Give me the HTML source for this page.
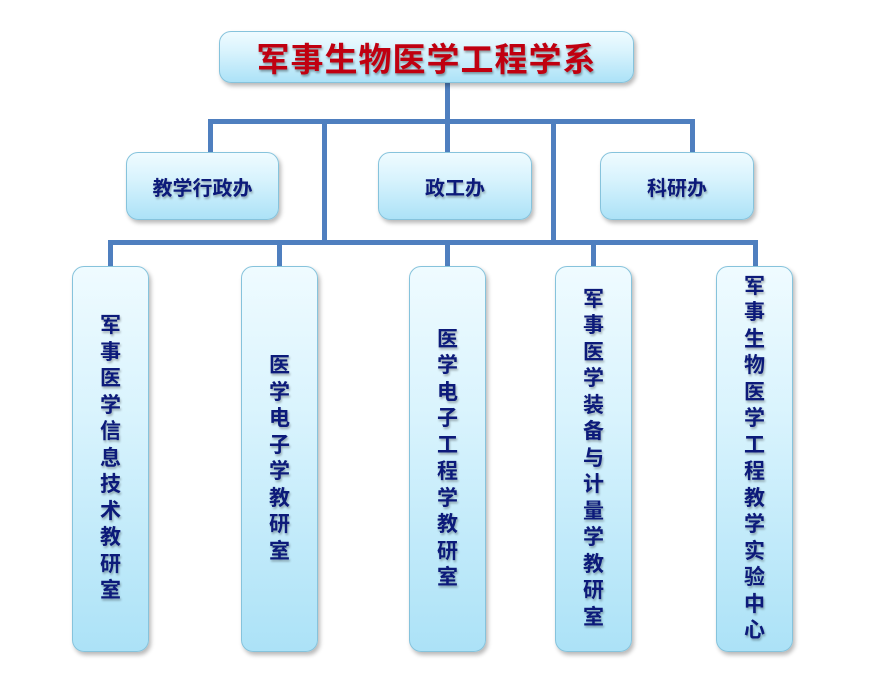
<!DOCTYPE html>
<html><head><meta charset="utf-8"><style>
body{margin:0;width:869px;height:698px;background:#fff;position:relative;overflow:hidden;font-family:"Liberation Sans","Noto Sans CJK SC","WenQuanYi Zen Hei",sans-serif;}
.l{position:absolute;background:#4f7fbf;}
.b{position:absolute;box-sizing:border-box;border:1.5px solid #86c3dc;border-radius:12px;background:linear-gradient(#effbff,#d8f3fd 40%,#ace2f7);box-shadow:2px 3px 4px rgba(0,0,0,0.28);display:flex;align-items:center;justify-content:center;color:#0c1a7a;font-weight:bold;text-shadow:1px 2px 2px rgba(0,0,0,0.3);}
.m{font-size:20px;}
.v{font-size:21px;line-height:26.5px;}
.v span{display:block;width:1.05em;text-align:center;word-break:break-all;}
</style></head><body>
<div class="l" style="left:445px;top:82px;width:5px;height:40px"></div>
<div class="l" style="left:208px;top:119px;width:487px;height:5px"></div>
<div class="l" style="left:208px;top:119px;width:5px;height:34px"></div>
<div class="l" style="left:445px;top:119px;width:5px;height:34px"></div>
<div class="l" style="left:690px;top:119px;width:5px;height:34px"></div>
<div class="l" style="left:322px;top:119px;width:5px;height:125px"></div>
<div class="l" style="left:551px;top:119px;width:5px;height:125px"></div>
<div class="l" style="left:108px;top:240px;width:650px;height:5px"></div>
<div class="l" style="left:108px;top:240px;width:5px;height:28px"></div>
<div class="l" style="left:277px;top:240px;width:5px;height:28px"></div>
<div class="l" style="left:445px;top:240px;width:5px;height:28px"></div>
<div class="l" style="left:591px;top:240px;width:5px;height:28px"></div>
<div class="l" style="left:753px;top:240px;width:5px;height:28px"></div>

<div class="b" style="left:219px;top:31px;width:415px;height:52px;color:#c00010;font-size:33px;letter-spacing:1px;text-shadow:1px 2px 2px rgba(0,0,0,0.35)">军事生物医学工程学系</div>

<div class="b m" style="left:126px;top:152px;width:153px;height:68px">教学行政办</div>
<div class="b m" style="left:378px;top:152px;width:154px;height:68px">政工办</div>
<div class="b m" style="left:600px;top:152px;width:154px;height:68px">科研办</div>

<div class="b v" style="left:72px;top:266px;width:77px;height:386px"><span>军事医学信息技术教研室</span></div>
<div class="b v" style="left:241px;top:266px;width:77px;height:386px"><span>医学电子学教研室</span></div>
<div class="b v" style="left:409px;top:266px;width:77px;height:386px"><span>医学电子工程学教研室</span></div>
<div class="b v" style="left:555px;top:266px;width:77px;height:386px"><span>军事医学装备与计量学教研室</span></div>
<div class="b v" style="left:716px;top:266px;width:77px;height:386px"><span>军事生物医学工程教学实验中心</span></div>
</body></html>
